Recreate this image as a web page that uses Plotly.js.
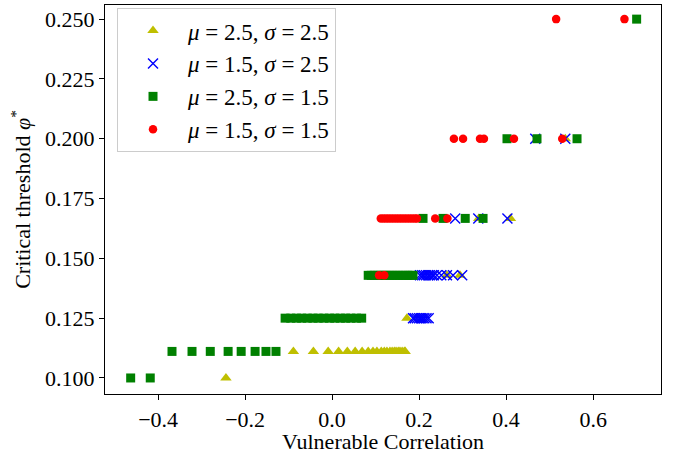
<!DOCTYPE html>
<html>
<head>
<meta charset="utf-8">
<script src="https://cdn.plot.ly/plotly-3.0.1.min.js"></script>
<style>html,body{margin:0;padding:0;background:#fff;}#chart{width:674px;height:454px;}</style>
</head>
<body>
<div id="chart"></div>
<script>
// Series: mu=2.5, sigma=2.5 (yellow triangles)
const yelX = [-0.244,
  -0.089, -0.043, -0.009, 0.015, 0.035, 0.053, 0.069, 0.083, 0.094, 0.103, 0.113, 0.120, 0.126, 0.133, 0.138, 0.143, 0.147, 0.152, 0.156, 0.161, 0.166, 0.168,
  0.172,
  0.264, 0.294,
  0.337, 0.410,
  0.536];
const yelY = [0.1,
  0.1111, 0.1111, 0.1111, 0.1111, 0.1111, 0.1111, 0.1111, 0.1111, 0.1111, 0.1111, 0.1111, 0.1111, 0.1111, 0.1111, 0.1111, 0.1111, 0.1111, 0.1111, 0.1111, 0.1111, 0.1111, 0.1111,
  0.125,
  0.1429, 0.1429,
  0.1667, 0.1667,
  0.2];

// Series: mu=1.5, sigma=2.5 (blue x)
const bluX = [0.186, 0.190, 0.195, 0.200, 0.204, 0.208, 0.212, 0.217, 0.222,
  0.202, 0.207, 0.211, 0.216, 0.221, 0.225, 0.230, 0.234, 0.241, 0.251, 0.264, 0.278, 0.299,
  0.283, 0.336, 0.403,
  0.467, 0.536];
const bluY = [0.125, 0.125, 0.125, 0.125, 0.125, 0.125, 0.125, 0.125, 0.125,
  0.1429, 0.1429, 0.1429, 0.1429, 0.1429, 0.1429, 0.1429, 0.1429, 0.1429, 0.1429, 0.1429, 0.1429, 0.1429,
  0.1667, 0.1667, 0.1667,
  0.2, 0.2];

// Series: mu=2.5, sigma=1.5 (green squares)
const grnX = [-0.463, -0.418,
  -0.368, -0.322, -0.280, -0.239, -0.209, -0.177, -0.152, -0.129,
  -0.108, -0.095, -0.082, -0.070, -0.057, -0.044, -0.032, -0.019, -0.006, 0.006, 0.019, 0.031, 0.043, 0.056, 0.068,
  0.083, 0.090, 0.097, 0.104, 0.111, 0.118, 0.125, 0.132, 0.139, 0.146, 0.153, 0.160, 0.167, 0.174, 0.180, 0.186,
  0.209, 0.255, 0.306, 0.347,
  0.402, 0.471, 0.563,
  0.700];
const grnY = [0.1, 0.1,
  0.1111, 0.1111, 0.1111, 0.1111, 0.1111, 0.1111, 0.1111, 0.1111,
  0.125, 0.125, 0.125, 0.125, 0.125, 0.125, 0.125, 0.125, 0.125, 0.125, 0.125, 0.125, 0.125, 0.125, 0.125,
  0.1429, 0.1429, 0.1429, 0.1429, 0.1429, 0.1429, 0.1429, 0.1429, 0.1429, 0.1429, 0.1429, 0.1429, 0.1429, 0.1429, 0.1429, 0.1429,
  0.1667, 0.1667, 0.1667, 0.1667,
  0.2, 0.2, 0.2,
  0.25];

// Series: mu=1.5, sigma=1.5 (red circles)
const redX = [0.108, 0.120,
  0.112, 0.118, 0.124, 0.130, 0.136, 0.142, 0.148, 0.154, 0.160, 0.166, 0.172, 0.178, 0.184, 0.190, 0.195,
  0.237, 0.265,
  0.280, 0.301, 0.340, 0.349, 0.418, 0.529,
  0.515, 0.672];
const redY = [0.1429, 0.1429,
  0.1667, 0.1667, 0.1667, 0.1667, 0.1667, 0.1667, 0.1667, 0.1667, 0.1667, 0.1667, 0.1667, 0.1667, 0.1667, 0.1667, 0.1667,
  0.1667, 0.1667,
  0.2, 0.2, 0.2, 0.2, 0.2, 0.2,
  0.25, 0.25];

const seriesNames = [
  "<i>μ</i> = 2.5, <i>σ</i> = 2.5",
  "<i>μ</i> = 1.5, <i>σ</i> = 2.5",
  "<i>μ</i> = 2.5, <i>σ</i> = 1.5",
  "<i>μ</i> = 1.5, <i>σ</i> = 1.5"
];

const FONT = "Liberation Serif, Times New Roman, serif";

const traces = [
  {x: yelX, y: yelY, name: seriesNames[0], type: "scatter", mode: "markers",
   marker: {symbol: "triangle-up", size: 10, color: "#bfbf00"}},
  {x: bluX, y: bluY, name: seriesNames[1], type: "scatter", mode: "markers",
   marker: {symbol: "x-thin-open", size: 10, color: "#0000ff", line: {color: "#0000ff", width: 1.4}}},
  {x: grnX, y: grnY, name: seriesNames[2], type: "scatter", mode: "markers",
   marker: {symbol: "square", size: 9, color: "#008000"}},
  {x: redX, y: redY, name: seriesNames[3], type: "scatter", mode: "markers",
   marker: {symbol: "circle", size: 8.5, color: "#ff0000"}}
];

const layout = {
  width: 674, height: 454,
  margin: {l: 105, r: 13, t: 5, b: 60},
  paper_bgcolor: "#fff", plot_bgcolor: "#fff",
  font: {family: FONT, size: 22, color: "#000"},
  showlegend: true,
  legend: {x: 0.0216, y: 0.992, xanchor: "left", yanchor: "top", itemwidth: 60,
           bgcolor: "rgba(255,255,255,0.8)", bordercolor: "#cccccc", borderwidth: 1,
           font: {family: FONT, size: 23, color: "#000"}},
  xaxis: {range: [-0.522, 0.756], dtick: 0.2, tick0: 0, tickformat: ".1f",
          showgrid: false, zeroline: false, showline: true, linecolor: "#000", linewidth: 1.2, mirror: true,
          ticks: "outside", ticklen: 5, tickcolor: "#000",
          title: {text: "Vulnerable Correlation", font: {family: FONT, size: 22}, standoff: 9}},
  yaxis: {range: [0.0933, 0.2559], dtick: 0.025, tick0: 0.1, tickformat: ".3f",
          showgrid: false, zeroline: false, showline: true, linecolor: "#000", linewidth: 1.2, mirror: true,
          ticks: "outside", ticklen: 5, tickcolor: "#000",
          title: {text: "Critical threshold <i>φ</i><sup>*</sup>", font: {family: FONT, size: 22}, standoff: 8}}
};

Plotly.newPlot("chart", traces, layout, {displayModeBar: false, staticPlot: true});
</script>
</body>
</html>
